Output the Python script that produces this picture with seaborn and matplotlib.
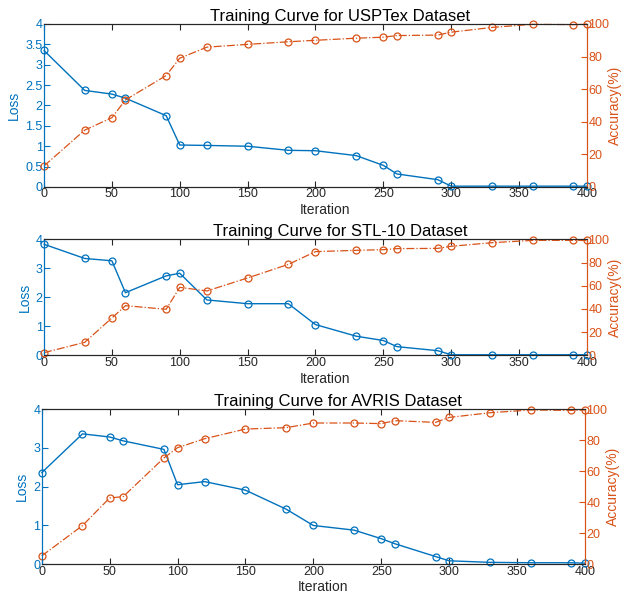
import matplotlib
matplotlib.use("Agg")
import matplotlib.pyplot as plt
import seaborn as sns
import pandas as pd
from matplotlib.ticker import FormatStrFormatter

sns.set_style("ticks")
plt.rcParams['font.family'] = ['Liberation Sans', 'DejaVu Sans']

iterations = [0, 30, 50, 60, 90, 100, 120, 150, 180, 200, 230, 250, 260, 290, 300, 330, 360, 390, 400]

usptex_loss = [3.35, 2.37, 2.28, 2.18, 1.75, 1.03, 1.02, 1.00, 0.90, 0.89, 0.77, 0.53, 0.32, 0.18,
               0.02, 0.02, 0.02, 0.02, 0.02]
usptex_acc = [12.9, 34.9, 42.5, 53.4, 68.4, 79.0, 85.8, 87.5, 89.1, 90.0, 91.3, 91.9, 92.9, 93.2,
              95.0, 97.9, 99.8, 99.6, 100.0]

stl_loss = [3.83, 3.34, 3.26, 2.16, 2.74, 2.83, 1.91, 1.78, 1.78, 1.06, 0.66, 0.51, 0.30, 0.16,
            0.02, 0.02, 0.02, 0.02, 0.02]
stl_acc = [2.3, 11.2, 32.2, 42.8, 39.7, 58.6, 55.5, 66.7, 78.4, 89.4, 90.5, 91.1, 92.0, 92.2,
           94.0, 97.1, 99.1, 99.1, 99.0]

avris_loss = [2.36, 3.36, 3.28, 3.18, 2.96, 2.05, 2.13, 1.91, 1.42, 1.00, 0.88, 0.66, 0.53, 0.20,
              0.09, 0.05, 0.04, 0.04, 0.03]
avris_acc = [5.4, 24.9, 42.7, 43.6, 68.5, 75.1, 80.9, 87.1, 88.0, 91.0, 91.0, 90.6, 92.5, 91.4,
             94.6, 97.6, 99.4, 99.1, 99.4]

titles = ["Training Curve for USPTex Dataset", "Training Curve for STL-10 Dataset",
          "Training Curve for AVRIS Dataset"]
loss_ticks = [[0, 0.5, 1, 1.5, 2, 2.5, 3, 3.5, 4], [0, 1, 2, 3, 4], [0, 1, 2, 3, 4]]

blue = "#0072BD"
orange = "#D95319"
dark = "#262626"

positions = [[0.0696, 0.6852, 0.8592, 0.2744],
             [0.0696, 0.4018, 0.8592, 0.1953],
             [0.0660, 0.0500, 0.8596, 0.2614]]

fig = plt.figure(figsize=(6.32, 5.94), dpi=100)

datasets = [(usptex_loss, usptex_acc), (stl_loss, stl_acc), (avris_loss, avris_acc)]
for i, (loss, acc) in enumerate(datasets):
    df = pd.DataFrame({"Iteration": iterations, "Loss": loss, "Accuracy": acc})
    ax = fig.add_axes(positions[i])
    ax2 = ax.twinx()

    sns.lineplot(data=df, x="Iteration", y="Loss", ax=ax, color=blue, lw=1.0,
                 marker="o", markersize=5, markerfacecolor="none",
                 markeredgecolor=blue, markeredgewidth=0.9, clip_on=False, zorder=3)
    sns.lineplot(data=df, x="Iteration", y="Accuracy", ax=ax2, color=orange, lw=0.9,
                 linestyle="-.", marker="o", markersize=5, markerfacecolor="none",
                 markeredgecolor=orange, markeredgewidth=0.9, clip_on=False)

    ax.set_xlim(0, 400)
    ax.set_ylim(0, 4)
    ax2.set_ylim(0, 100)
    ax.set_xticks(range(0, 401, 50))
    ax.set_yticks(loss_ticks[i])
    ax.yaxis.set_major_formatter(FormatStrFormatter("%g"))
    ax2.set_yticks(range(0, 101, 20))

    ax.set_title(titles[i], fontsize=12, color="black", pad=2, x=0.545)
    ax.set_xlabel("Iteration", fontsize=10, color=dark, labelpad=0)
    ax.xaxis.set_label_coords(0.517, -0.1 if i != 1 else -0.14)
    ax.set_ylabel("Loss", fontsize=10, color=blue, labelpad=3)
    ax2.set_ylabel("Accuracy(%)", fontsize=10, color=orange, labelpad=-1)

    for a in (ax, ax2):
        for s in a.spines.values():
            s.set_visible(True)
            s.set_linewidth(0.8)
            s.set_color(dark)
    ax.spines["left"].set_color(blue)
    ax2.spines["left"].set_color(blue)
    ax2.spines["right"].set_color(orange)
    ax.spines["right"].set_color(orange)

    ax.tick_params(axis="x", direction="in", top=True, length=4, width=0.8,
                   colors=dark, labelsize=9, pad=1)
    ax.tick_params(axis="y", direction="in", length=4, width=0.8, colors=blue,
                   labelsize=9, pad=1)
    ax2.tick_params(axis="y", direction="in", length=4, width=0.8, colors=orange,
                    labelsize=9, pad=1)
    ax.grid(False)
    ax2.grid(False)

fig.savefig("out.png", dpi=100)
